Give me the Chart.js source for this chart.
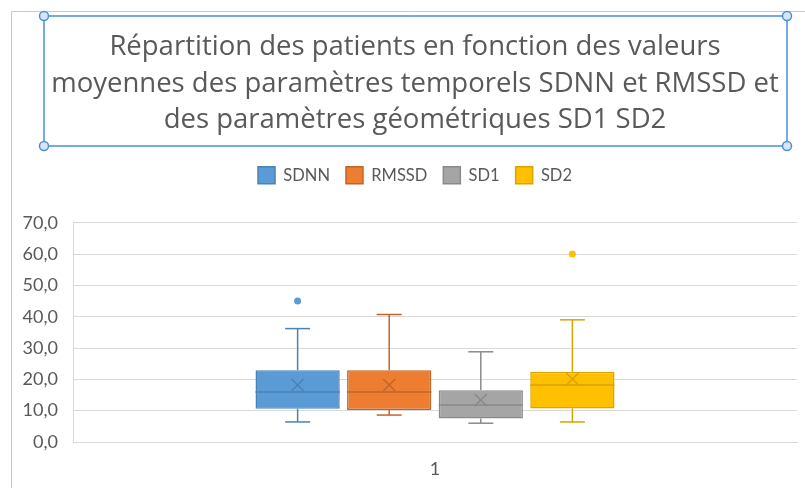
<!DOCTYPE html>
<html>
<head>
<meta charset="utf-8">
<script src="https://cdn.jsdelivr.net/npm/chart.js@4.4.1/dist/chart.umd.min.js"></script>
<style>
  html, body { margin: 0; padding: 0; background: #ffffff; }
  #wrap { width: 805px; height: 488px; }
</style>
</head>
<body>
<div id="wrap"><canvas id="boxChart" width="805" height="488"></canvas></div>
<script>
// data
const categories = ['1'];
const seriesNames = ['SDNN', 'RMSSD', 'SD1', 'SD2'];
const minVals = [6.4, 8.6, 6.0, 6.4];
const q1Vals = [10.6, 10.2, 7.5, 10.7];
const medianVals = [16.0, 16.0, 11.8, 18.2];
const q3Vals = [22.9, 22.9, 16.5, 22.4];
const maxVals = [36.2, 40.7, 28.8, 39.0];
const meanVals = [18.2, 18.2, 13.4, 20.1];
const outlierVals = [[45.0], [], [], [60.0]];
const yTicks = [0, 10, 20, 30, 40, 50, 60, 70];

const fillColors = ['#5b9bd5', '#ed7d31', '#a5a5a5', '#ffc000'];
const edgeColors = ['#4a82b8', '#c0652a', '#8a8a8a', '#d9a300'];
const textColor = '#595959';
const FONT = 'Lato, "Open Sans", sans-serif';

const datasets = seriesNames.map((name, i) => ({
    label: name,
    data: [[q1Vals[i], q3Vals[i]]],
    backgroundColor: fillColors[i],
    borderColor: edgeColors[i],
    borderWidth: 1.5,
    borderSkipped: false,
    categoryPercentage: 0.506,
    barPercentage: 0.92
}));

function line(ctx, x1, y1, x2, y2) {
    ctx.beginPath();
    ctx.moveTo(x1, y1);
    ctx.lineTo(x2, y2);
    ctx.stroke();
}

// whiskers, median, mean and outliers on top of the floating bars
const boxExtras = {
    id: 'boxExtras',
    afterDatasetsDraw(chart) {
        const ctx = chart.ctx;
        const ys = chart.scales.y;
        seriesNames.forEach((name, i) => {
            const bar = chart.getDatasetMeta(i).data[0];
            const x = bar.x, half = bar.width / 2;
            const cap = 12.5;
            ctx.save();
            ctx.strokeStyle = edgeColors[i];
            ctx.lineWidth = 1.5;
            const yMax = ys.getPixelForValue(maxVals[i]);
            const yMin = ys.getPixelForValue(minVals[i]);
            line(ctx, x, ys.getPixelForValue(q3Vals[i]), x, yMax);
            line(ctx, x - cap, yMax, x + cap, yMax);
            line(ctx, x, ys.getPixelForValue(q1Vals[i]), x, yMin);
            line(ctx, x - cap, yMin, x + cap, yMin);
            const yMed = ys.getPixelForValue(medianVals[i]);
            line(ctx, x - half, yMed, x + half, yMed);
            const yMean = ys.getPixelForValue(meanVals[i]);
            const m = 6;
            line(ctx, x - m, yMean - m, x + m, yMean + m);
            line(ctx, x - m, yMean + m, x + m, yMean - m);
            ctx.fillStyle = fillColors[i];
            outlierVals[i].forEach(v => {
                ctx.beginPath();
                ctx.arc(x, ys.getPixelForValue(v), 3.5, 0, Math.PI * 2);
                ctx.fill();
            });
            ctx.restore();
        });
    }
};

// chart frame and the selected title box
const frame = {
    id: 'frame',
    afterLayout(chart) {
        // let the y labels spill left of the narrow axis box without clipping
        chart.scales.y.left = 12;
    },
    beforeDraw(chart) {
        const ctx = chart.ctx;
        ctx.save();
        ctx.fillStyle = '#ffffff';
        ctx.fillRect(0, 0, chart.width, chart.height);
        ctx.strokeStyle = '#c8c8c8';
        ctx.lineWidth = 1;
        line(ctx, 11.5, 11.5, chart.width, 11.5);
        line(ctx, 11.5, 11.5, 11.5, chart.height);
        ctx.restore();
    },
    afterDraw(chart) {
        const ctx = chart.ctx;
        ctx.save();
        ctx.strokeStyle = '#4a90d9';
        ctx.lineWidth = 1.5;
        ctx.strokeRect(44, 16, 743, 130);
        [[44, 16], [787, 16], [44, 146], [787, 146]].forEach(p => {
            ctx.beginPath();
            ctx.arc(p[0], p[1], 4.5, 0, Math.PI * 2);
            ctx.fillStyle = '#d6e6f7';
            ctx.fill();
            ctx.stroke();
        });
        ctx.restore();
    }
};

new Chart(document.getElementById('boxChart'), {
    type: 'bar',
    data: { labels: categories, datasets: datasets },
    plugins: [frame, boxExtras],
    options: {
        responsive: false,
        animation: false,
        layout: { padding: { top: 11, left: 33, right: 8, bottom: 0 } },
        plugins: {
            title: {
                display: true,
                text: ['Répartition des patients en fonction des valeurs',
                       'moyennes des paramètres temporels SDNN et RMSSD et',
                       'des paramètres géométriques SD1 SD2'],
                color: textColor,
                font: { family: '"Open Sans", sans-serif', size: 27.5, weight: 'normal', lineHeight: 1.33 },
                padding: { top: 18, bottom: 12 }
            },
            legend: {
                display: true,
                position: 'top',
                labels: {
                    color: textColor,
                    font: { family: FONT, size: 16.5 },
                    boxWidth: 17,
                    boxHeight: 17,
                    padding: 16
                }
            },
            tooltip: { enabled: false }
        },
        scales: {
            x: {
                grid: { display: false, drawTicks: false },
                border: { display: true, color: '#d9d9d9' },
                ticks: { color: textColor, font: { family: FONT, size: 18 }, padding: 16 },
                afterFit(scale) { scale.height = 46; }
            },
            xTop: {
                type: 'category',
                labels: categories,
                position: 'top',
                grid: { display: false, drawTicks: false },
                border: { display: false },
                ticks: { display: false },
                afterFit(scale) { scale.height = 29; }
            },
            y: {
                min: 0,
                max: 70,
                afterBuildTicks(scale) { scale.ticks = yTicks.map(v => ({ value: v })); },
                grid: { color: '#d9d9d9', drawTicks: false },
                border: { display: true, color: '#d9d9d9' },
                ticks: {
                    color: textColor,
                    font: { family: FONT, size: 18 },
                    padding: 15,
                    callback: v => v.toFixed(1).replace('.', ',')
                },
                afterFit(scale) { scale.width = 40; }
            }
        }
    }
});
</script>
</body>
</html>
